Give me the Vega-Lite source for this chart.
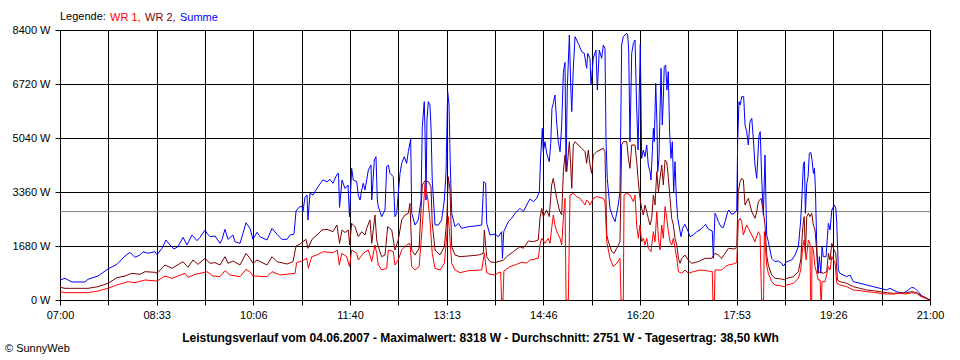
{
  "$schema": "https://vega.github.io/schema/vega-lite/v6.json",
  "autosize": "none",
  "width": 870,
  "height": 270,
  "padding": {"left": 60, "top": 30, "right": 30, "bottom": 60},
  "background": "white",
  "title": {"text": "© SunnyWeb", "orient": "bottom", "anchor": "start", "frame": "group", "dx": -55, "offset": 0, "fontSize": 11, "fontWeight": "normal", "color": "black", "font": "Liberation Sans"},
  "config": {
    "font": "Liberation Sans",
    "view": {"stroke": "black", "strokeWidth": 1}
  },
  "encoding": {
    "y": {"field": "w", "type": "quantitative", "scale": {"domain": [0, 8400], "nice": false, "zero": true},
      "axis": {"values": [0, 1680, 3360, 5040, 6720, 8400], "labelExpr": "datum.value + ' W'", "title": null, "grid": true, "gridColor": "black", "gridOpacity": 1, "gridWidth": 1, "domainColor": "black", "tickColor": "black", "tickSize": 5, "labelPadding": 5, "labelFontSize": 11, "labelColor": "black", "labelFlush": false, "labelOverlap": false, "labelFont": "Liberation Sans"}}
  },
  "layer": [
    {
      "data": {"values": [{"w": 2751}]},
      "mark": {"type": "rule", "color": "#808080", "strokeWidth": 1}
    },
    {
      "data": {"values": [{"t":0,"w":622},{"t":4.8,"w":675},{"t":11.6,"w":560},{"t":24.1,"w":560},{"t":27,"w":644},{"t":36.7,"w":747},{"t":46.3,"w":964},{"t":55,"w":1111},{"t":62.8,"w":1369},{"t":67.6,"w":1484},{"t":72.4,"w":1328},{"t":77.2,"w":1400},{"t":80.1,"w":1503},{"t":85,"w":1453},{"t":91.7,"w":1503},{"t":93.7,"w":1409},{"t":98.5,"w":1608},{"t":102.3,"w":1867},{"t":106.2,"w":1711},{"t":110.1,"w":1587},{"t":113.9,"w":1658},{"t":118.8,"w":1951},{"t":122.6,"w":1711},{"t":127.4,"w":2022},{"t":132.3,"w":1845},{"t":135.2,"w":1951},{"t":140,"w":2178},{"t":141.9,"w":2074},{"t":144.8,"w":1970},{"t":149.7,"w":1991},{"t":154.5,"w":1763},{"t":156.4,"w":1887},{"t":159.3,"w":2198},{"t":162.2,"w":1887},{"t":167,"w":2022},{"t":169,"w":1815},{"t":173.8,"w":1763},{"t":176.7,"w":2074},{"t":179.6,"w":2405},{"t":183.4,"w":2230},{"t":186.3,"w":1887},{"t":190.2,"w":2105},{"t":193.1,"w":1970},{"t":199.9,"w":1867},{"t":204.7,"w":2230},{"t":209.5,"w":2043},{"t":214.3,"w":1887},{"t":219.2,"w":1887},{"t":222.1,"w":2022},{"t":225.9,"w":2043},{"t":227.9,"w":2769},{"t":230.8,"w":2884},{"t":233.7,"w":2924},{"t":234.6,"w":2748},{"t":236.5,"w":3194},{"t":238.5,"w":3267},{"t":239.4,"w":2489},{"t":241.4,"w":3319},{"t":244.3,"w":3267},{"t":248.1,"w":3474},{"t":251,"w":3609},{"t":253.9,"w":3733},{"t":257.8,"w":3681},{"t":260.7,"w":3754},{"t":263.6,"w":3630},{"t":267.4,"w":3910},{"t":268.9,"w":3940},{"t":269.9,"w":2883},{"t":272.3,"w":3733},{"t":275.2,"w":3470},{"t":278.1,"w":3578},{"t":279.5,"w":2592},{"t":281.6,"w":4096},{"t":283.2,"w":3733},{"t":286.5,"w":3681},{"t":288,"w":3267},{"t":289.7,"w":3111},{"t":291.3,"w":3422},{"t":292.8,"w":3630},{"t":294.5,"w":3422},{"t":296.1,"w":3733},{"t":297.7,"w":4044},{"t":300.3,"w":4200},{"t":301,"w":3111},{"t":303.5,"w":4356},{"t":305.1,"w":4459},{"t":306.4,"w":3111},{"t":307.3,"w":2904},{"t":310.6,"w":2592},{"t":313.8,"w":2800},{"t":315.4,"w":4148},{"t":317,"w":4200},{"t":318.6,"w":3940},{"t":321.8,"w":3837},{"t":323.4,"w":2592},{"t":325.1,"w":2696},{"t":326.6,"w":3319},{"t":328.3,"w":3940},{"t":329.9,"w":4252},{"t":332.4,"w":4459},{"t":334.7,"w":4252},{"t":336.3,"w":4615},{"t":338.6,"w":5000},{"t":339.6,"w":2696},{"t":342.8,"w":2333},{"t":345.9,"w":2489},{"t":348.6,"w":3111},{"t":349.8,"w":5393},{"t":351.7,"w":6171},{"t":352.4,"w":5289},{"t":353.4,"w":3111},{"t":354.3,"w":5600},{"t":355.6,"w":6171},{"t":357.2,"w":6067},{"t":358.2,"w":5393},{"t":359.4,"w":3733},{"t":362.1,"w":2333},{"t":365.3,"w":2333},{"t":368.5,"w":2489},{"t":371.1,"w":3111},{"t":372.7,"w":3940},{"t":374.3,"w":6480},{"t":375.6,"w":6067},{"t":376.8,"w":4252},{"t":378.2,"w":2696},{"t":381.4,"w":2281},{"t":384.6,"w":2385},{"t":387.8,"w":2230},{"t":394.2,"w":2281},{"t":400.7,"w":2302},{"t":407.2,"w":2333},{"t":409.1,"w":3681},{"t":411,"w":3630},{"t":412,"w":2385},{"t":415.2,"w":2022},{"t":420,"w":2050},{"t":423.2,"w":1970},{"t":426.4,"w":2126},{"t":427.2,"w":1296},{"t":428.4,"w":2126},{"t":432.8,"w":2437},{"t":436.1,"w":2541},{"t":439.3,"w":2696},{"t":444.1,"w":2852},{"t":447.3,"w":2748},{"t":450.6,"w":2955},{"t":453.8,"w":3142},{"t":457,"w":3059},{"t":460.3,"w":3163},{"t":462.8,"w":3370},{"t":464.1,"w":4459},{"t":465.7,"w":5341},{"t":466.6,"w":4615},{"t":468.3,"w":4926},{"t":469.9,"w":4563},{"t":472.4,"w":4304},{"t":473.8,"w":4874},{"t":475,"w":5963},{"t":476.3,"w":6119},{"t":477.9,"w":6378},{"t":479.6,"w":5496},{"t":481.1,"w":4926},{"t":482.8,"w":4615},{"t":484.4,"w":5445},{"t":486,"w":7078},{"t":487.6,"w":7389},{"t":488.6,"w":3993},{"t":489.8,"w":6586},{"t":491.8,"w":8244},{"t":493.1,"w":6689},{"t":494.1,"w":5860},{"t":495.6,"w":7208},{"t":497.3,"w":8192},{"t":500.4,"w":7985},{"t":503.7,"w":7726},{"t":506.2,"w":7674},{"t":508.5,"w":7208},{"t":509.5,"w":7674},{"t":511.7,"w":7519},{"t":512.7,"w":6689},{"t":514.9,"w":7519},{"t":517.5,"w":7778},{"t":518.8,"w":6533},{"t":520.7,"w":7778},{"t":523,"w":7519},{"t":524.6,"w":7933},{"t":526.2,"w":7830},{"t":527.2,"w":4978},{"t":528.4,"w":3785},{"t":531,"w":2852},{"t":533.6,"w":2593},{"t":535.9,"w":2437},{"t":539,"w":2956},{"t":540.7,"w":3370},{"t":542.3,"w":7933},{"t":543.9,"w":8192},{"t":545.5,"w":8244},{"t":547.2,"w":8296},{"t":548.1,"w":8244},{"t":549.1,"w":7778},{"t":550.3,"w":4926},{"t":552,"w":7674},{"t":553.6,"w":7985},{"t":555.2,"w":8089},{"t":556.6,"w":6222},{"t":558.1,"w":4667},{"t":560.3,"w":7955},{"t":561.6,"w":4407},{"t":563.2,"w":4667},{"t":564.8,"w":4459},{"t":566.5,"w":4822},{"t":568,"w":4200},{"t":569.7,"w":3993},{"t":570.6,"w":3733},{"t":571.9,"w":4615},{"t":572.9,"w":5341},{"t":573.8,"w":4926},{"t":575.2,"w":6741},{"t":576.4,"w":5445},{"t":577.1,"w":3993},{"t":578.3,"w":4407},{"t":580.3,"w":7208},{"t":581.5,"w":5445},{"t":582.5,"w":6222},{"t":583.4,"w":7259},{"t":584.8,"w":7311},{"t":586,"w":6533},{"t":587.3,"w":7104},{"t":588.6,"w":5237},{"t":589.9,"w":4407},{"t":591.2,"w":4926},{"t":592.5,"w":3370},{"t":593.8,"w":4304},{"t":595.1,"w":3163},{"t":596.4,"w":2541},{"t":597.6,"w":2333},{"t":599.6,"w":1970},{"t":601.2,"w":2230},{"t":603.4,"w":2354},{"t":605.1,"w":2230},{"t":606.6,"w":2126},{"t":608.3,"w":1970},{"t":611.5,"w":2022},{"t":614.7,"w":2126},{"t":617.9,"w":2178},{"t":621.1,"w":2281},{"t":623.4,"w":2354},{"t":625.4,"w":2230},{"t":627.6,"w":2178},{"t":629.8,"w":2147},{"t":630.8,"w":1296},{"t":632.4,"w":2696},{"t":634.1,"w":2593},{"t":635.6,"w":2437},{"t":638.2,"w":2281},{"t":640.4,"w":2250},{"t":642.1,"w":2437},{"t":644.7,"w":2748},{"t":645.9,"w":2800},{"t":648.5,"w":2665},{"t":651,"w":2696},{"t":653.4,"w":2800},{"t":654.3,"w":4926},{"t":655.6,"w":6170},{"t":656.8,"w":6067},{"t":658.2,"w":6326},{"t":660.1,"w":6326},{"t":661.4,"w":5445},{"t":663,"w":5237},{"t":664.6,"w":4822},{"t":666.2,"w":5548},{"t":667.9,"w":5652},{"t":669.4,"w":5030},{"t":671,"w":4200},{"t":672.7,"w":3785},{"t":674.9,"w":5133},{"t":676.1,"w":5237},{"t":677.5,"w":3785},{"t":679.1,"w":2644},{"t":680.7,"w":4511},{"t":682.3,"w":2022},{"t":683.9,"w":1815},{"t":687.2,"w":1296},{"t":690.3,"w":1193},{"t":693.5,"w":1213},{"t":696.8,"w":1141},{"t":698.4,"w":1058},{"t":701.7,"w":1193},{"t":706.5,"w":1244},{"t":709.7,"w":1400},{"t":712.9,"w":1659},{"t":715.2,"w":2489},{"t":716.5,"w":3319},{"t":717.7,"w":4200},{"t":718.7,"w":4304},{"t":719.7,"w":2696},{"t":721,"w":3630},{"t":722.3,"w":3837},{"t":723.5,"w":4563},{"t":724.9,"w":4593},{"t":726.1,"w":4356},{"t":727.4,"w":3940},{"t":728.4,"w":4096},{"t":729.3,"w":3526},{"t":730.7,"w":1659},{"t":731.9,"w":830},{"t":733.2,"w":1348},{"t":734.6,"w":830},{"t":735.8,"w":1659},{"t":737,"w":1348},{"t":739.6,"w":1348},{"t":741.9,"w":2385},{"t":743.5,"w":2178},{"t":745.2,"w":2800},{"t":746.8,"w":2904},{"t":747.6,"w":2955},{"t":749,"w":2861},{"t":750,"w":2385},{"t":751.5,"w":933},{"t":753.1,"w":830},{"t":756.3,"w":778},{"t":759.6,"w":726},{"t":762.8,"w":778},{"t":766,"w":570},{"t":772.4,"w":519},{"t":778.9,"w":467},{"t":785.3,"w":415},{"t":791.7,"w":363},{"t":798.2,"w":311},{"t":801.4,"w":363},{"t":807.8,"w":259},{"t":814.2,"w":208},{"t":819.1,"w":311},{"t":822.3,"w":395},{"t":825.5,"w":363},{"t":828.7,"w":259},{"t":832,"w":124},{"t":836.8,"w":53},{"t":840,"w":0}]},
      "mark": {"type": "line", "strokeWidth": 1},
      "encoding": {
        "x": {"field": "t", "type": "quantitative", "scale": {"domain": [0, 840], "nice": false, "zero": false},
          "axis": {"values": [0, 46.667, 93.333, 140, 186.667, 233.333, 280, 326.667, 373.333, 420, 466.667, 513.333, 560, 606.667, 653.333, 700, 746.667, 793.333, 840],
            "labelExpr": "['07:00','','08:33','','10:06','','11:40','','13:13','','14:46','','16:20','','17:53','','19:26','','21:00'][round(datum.value / 46.6667)]",
            "grid": true, "gridColor": "black", "gridOpacity": 1, "gridWidth": 1, "domainColor": "black", "tickColor": "black", "tickSize": 5, "labelPadding": 4, "labelFontSize": 11, "labelColor": "black", "labelFlush": false, "labelOverlap": false, "labelFont": "Liberation Sans",
            "title": "Leistungsverlauf vom 04.06.2007 - Maximalwert: 8318 W - Durchschnitt: 2751 W - Tagesertrag: 38,50 kWh",
            "titleFont": "Liberation Sans", "titleFontSize": 12, "titleFontWeight": "bold", "titleColor": "black", "titleX": 420, "titleY": 41, "titleAlign": "center", "titleBaseline": "alphabetic"}},
        "color": {"datum": "Summe", "type": "nominal",
          "scale": {"domain": ["WR 1", "WR 2", "Summe"], "range": ["#ff0000", "#800000", "#0000ff"]},
          "legend": {"orient": "none", "legendX": 0, "legendY": -18, "direction": "horizontal", "gridAlign": "none",
            "title": "Legende:", "titleOrient": "left", "titleFont": "Liberation Sans", "titleFontSize": 11, "titleFontWeight": "normal", "titleColor": "black", "titlePadding": 1,
            "symbolType": "circle", "symbolSize": 1, "symbolOpacity": 0, "symbolStrokeWidth": 0, "symbolStrokeColor": "transparent", "symbolFillColor": "transparent", "labelOffset": -8, "columnPadding": 1,
            "labelFont": "Liberation Sans", "labelFontSize": 11,
            "labelColor": {"expr": "datum.value === 'WR 1' ? '#ff0000' : datum.value === 'WR 2' ? '#800000' : '#0000ff'"},
            "labelExpr": "datum.label === 'Summe' ? datum.label : datum.label + ','"}}
      }
    },
    {
      "data": {"values": [{"t":0,"w":396},{"t":4.8,"w":363},{"t":14.5,"w":363},{"t":27,"w":363},{"t":36.7,"w":415},{"t":46.3,"w":519},{"t":55,"w":694},{"t":62.8,"w":747},{"t":69.5,"w":830},{"t":77.2,"w":799},{"t":82.1,"w":881},{"t":91.7,"w":861},{"t":93.7,"w":830},{"t":101.4,"w":1089},{"t":108.1,"w":985},{"t":118.8,"w":1193},{"t":123.6,"w":1017},{"t":128.4,"w":1244},{"t":133.2,"w":1110},{"t":140,"w":1296},{"t":144.8,"w":1141},{"t":149.7,"w":1162},{"t":154.5,"w":1089},{"t":159.3,"w":1348},{"t":162.2,"w":1141},{"t":167,"w":1213},{"t":173.8,"w":1089},{"t":179.6,"w":1452},{"t":183.4,"w":1296},{"t":186.3,"w":1141},{"t":190.2,"w":1244},{"t":199.9,"w":1089},{"t":204.7,"w":1348},{"t":209.5,"w":1193},{"t":219.2,"w":1120},{"t":225,"w":1193},{"t":227.9,"w":1680},{"t":231.7,"w":1742},{"t":234.6,"w":1815},{"t":237.5,"w":1887},{"t":239.4,"w":1608},{"t":243.3,"w":1887},{"t":248.1,"w":2022},{"t":253,"w":2178},{"t":257.8,"w":2198},{"t":263.6,"w":2126},{"t":267.4,"w":2333},{"t":269.9,"w":1763},{"t":272.3,"w":2178},{"t":275.2,"w":2100},{"t":278.4,"w":2178},{"t":279.7,"w":1711},{"t":281.6,"w":2385},{"t":284.8,"w":2281},{"t":288,"w":1970},{"t":291.3,"w":2126},{"t":294.5,"w":2022},{"t":296.1,"w":2230},{"t":299.3,"w":2489},{"t":301,"w":1763},{"t":304.1,"w":2644},{"t":305.8,"w":1867},{"t":307.3,"w":1659},{"t":310.6,"w":1348},{"t":313.8,"w":1400},{"t":316.4,"w":2281},{"t":320.3,"w":2178},{"t":323.4,"w":1556},{"t":326.6,"w":1867},{"t":329.9,"w":2489},{"t":333.1,"w":2644},{"t":336.3,"w":2696},{"t":337.9,"w":3007},{"t":339.6,"w":1556},{"t":342.8,"w":1400},{"t":346.7,"w":1608},{"t":349.8,"w":3578},{"t":352.4,"w":3712},{"t":355.6,"w":3681},{"t":358.2,"w":3526},{"t":359.4,"w":2385},{"t":362.1,"w":1556},{"t":366.9,"w":1400},{"t":371.1,"w":1659},{"t":373.4,"w":2489},{"t":374.9,"w":3837},{"t":376.6,"w":3422},{"t":378.2,"w":1659},{"t":381.4,"w":1400},{"t":386.2,"w":1348},{"t":394.2,"w":1369},{"t":403.9,"w":1400},{"t":408.7,"w":1452},{"t":409.7,"w":2178},{"t":412,"w":1348},{"t":415.2,"w":1193},{"t":420,"w":1162},{"t":422.9,"w":1193},{"t":428,"w":1234},{"t":431.3,"w":1348},{"t":437.7,"w":1504},{"t":444.1,"w":1659},{"t":447.3,"w":1608},{"t":452.2,"w":1835},{"t":457,"w":1815},{"t":461.8,"w":1867},{"t":463.4,"w":2541},{"t":465.1,"w":2852},{"t":466.6,"w":2593},{"t":469.9,"w":2800},{"t":472.4,"w":2593},{"t":474.7,"w":3578},{"t":476.3,"w":3785},{"t":477.9,"w":3474},{"t":479.6,"w":3163},{"t":482.1,"w":2800},{"t":484.4,"w":2644},{"t":486,"w":3993},{"t":487.6,"w":4511},{"t":489.3,"w":3993},{"t":491.8,"w":4926},{"t":493.1,"w":4200},{"t":494.1,"w":3474},{"t":495.6,"w":4822},{"t":497.3,"w":4926},{"t":500.4,"w":4822},{"t":503.7,"w":4719},{"t":506.9,"w":4615},{"t":508.5,"w":4252},{"t":510.1,"w":4667},{"t":511.7,"w":4200},{"t":513.4,"w":3940},{"t":514.9,"w":4511},{"t":518.2,"w":4615},{"t":521.4,"w":4667},{"t":524.6,"w":4719},{"t":526.2,"w":4615},{"t":527.9,"w":2022},{"t":529.5,"w":1815},{"t":532.8,"w":1504},{"t":535,"w":1452},{"t":537.5,"w":1608},{"t":540.7,"w":1815},{"t":542.3,"w":4822},{"t":543.9,"w":4926},{"t":547.2,"w":4926},{"t":548.8,"w":4407},{"t":550.3,"w":4096},{"t":552,"w":4822},{"t":555.2,"w":4822},{"t":556.8,"w":4304},{"t":558.4,"w":3681},{"t":560,"w":3163},{"t":561.6,"w":2852},{"t":563.2,"w":2644},{"t":564.8,"w":2955},{"t":566.5,"w":2748},{"t":568,"w":2541},{"t":569.7,"w":2333},{"t":571.3,"w":2541},{"t":572.9,"w":3267},{"t":574.5,"w":2955},{"t":576.2,"w":3993},{"t":577.8,"w":3370},{"t":579.3,"w":3785},{"t":581,"w":4200},{"t":582.5,"w":3578},{"t":584.2,"w":4356},{"t":585.8,"w":4304},{"t":587.4,"w":3785},{"t":589,"w":3163},{"t":590.6,"w":2541},{"t":592.2,"w":2333},{"t":593.8,"w":1919},{"t":595.5,"w":1711},{"t":597.1,"w":1296},{"t":598.6,"w":1141},{"t":600.3,"w":1296},{"t":603.4,"w":1400},{"t":606.6,"w":1244},{"t":609.9,"w":1141},{"t":616.3,"w":1193},{"t":619.5,"w":1244},{"t":622.7,"w":1296},{"t":629.2,"w":1296},{"t":632.4,"w":1452},{"t":635.6,"w":1400},{"t":638.9,"w":1296},{"t":642.1,"w":1452},{"t":645.3,"w":1608},{"t":651.7,"w":1587},{"t":653.4,"w":1659},{"t":654.9,"w":3370},{"t":656.6,"w":3681},{"t":658.2,"w":3785},{"t":659.8,"w":3733},{"t":661.4,"w":2955},{"t":664.6,"w":3163},{"t":667.9,"w":2748},{"t":671,"w":2541},{"t":672.7,"w":2748},{"t":674.3,"w":3059},{"t":676.9,"w":3163},{"t":679.1,"w":2748},{"t":680.7,"w":2333},{"t":682.3,"w":1400},{"t":683.9,"w":1089},{"t":687.2,"w":778},{"t":690.3,"w":674},{"t":696.8,"w":653},{"t":700,"w":622},{"t":701.7,"w":674},{"t":708,"w":726},{"t":712.9,"w":881},{"t":715.2,"w":1244},{"t":717.2,"w":2281},{"t":718.5,"w":2593},{"t":719.7,"w":1452},{"t":721,"w":2593},{"t":722.6,"w":2696},{"t":724.1,"w":2593},{"t":725.8,"w":2696},{"t":727.4,"w":2333},{"t":729,"w":2178},{"t":730.7,"w":1452},{"t":731.9,"w":830},{"t":733.9,"w":881},{"t":737,"w":830},{"t":740.3,"w":881},{"t":741.9,"w":1452},{"t":743.5,"w":1244},{"t":745.2,"w":1763},{"t":747.4,"w":1556},{"t":749,"w":1452},{"t":750.6,"w":622},{"t":753.1,"w":570},{"t":759.6,"w":519},{"t":766,"w":415},{"t":772.4,"w":363},{"t":778.9,"w":311},{"t":785.3,"w":290},{"t":791.7,"w":259},{"t":798.2,"w":228},{"t":804.6,"w":208},{"t":817.5,"w":228},{"t":822.3,"w":259},{"t":827.1,"w":228},{"t":830.3,"w":156},{"t":836.8,"w":53},{"t":840,"w":0}]},
      "mark": {"type": "line", "strokeWidth": 1},
      "encoding": {
        "x": {"field": "t", "type": "quantitative"},
        "color": {"datum": "WR 2", "type": "nominal"}
      }
    },
    {
      "data": {"values": [{"t":0,"w":259},{"t":4.8,"w":228},{"t":27,"w":228},{"t":36.7,"w":280},{"t":46.3,"w":363},{"t":55,"w":467},{"t":65.7,"w":570},{"t":72.4,"w":539},{"t":82.1,"w":622},{"t":93.7,"w":591},{"t":101.4,"w":747},{"t":108.1,"w":674},{"t":120.7,"w":830},{"t":123.6,"w":705},{"t":130.3,"w":799},{"t":140,"w":861},{"t":141.9,"w":881},{"t":147.7,"w":747},{"t":154.5,"w":726},{"t":159.3,"w":912},{"t":164.1,"w":778},{"t":173.8,"w":726},{"t":179.6,"w":954},{"t":183.4,"w":881},{"t":186.3,"w":747},{"t":199.9,"w":726},{"t":204.7,"w":881},{"t":212.4,"w":778},{"t":226.9,"w":830},{"t":228.5,"w":1162},{"t":233.4,"w":1213},{"t":238.2,"w":1296},{"t":239.8,"w":985},{"t":243,"w":1348},{"t":247.9,"w":1400},{"t":254.2,"w":1503},{"t":263.9,"w":1472},{"t":267.7,"w":1556},{"t":269.7,"w":1089},{"t":272,"w":1452},{"t":276.8,"w":1348},{"t":279.5,"w":1037},{"t":281.6,"w":1556},{"t":286.5,"w":1452},{"t":288,"w":1244},{"t":292.8,"w":1452},{"t":297.7,"w":1556},{"t":301,"w":1193},{"t":304.1,"w":1711},{"t":305.8,"w":1452},{"t":307.3,"w":1089},{"t":310.6,"w":933},{"t":315.4,"w":985},{"t":317,"w":1556},{"t":321.8,"w":1503},{"t":323.4,"w":1089},{"t":326.6,"w":1244},{"t":329.9,"w":1556},{"t":334.7,"w":1711},{"t":337.9,"w":1763},{"t":339.6,"w":1037},{"t":342.8,"w":933},{"t":346.7,"w":1037},{"t":349.8,"w":2281},{"t":352.4,"w":3630},{"t":355.3,"w":3111},{"t":357.2,"w":2489},{"t":359.4,"w":1452},{"t":362.1,"w":985},{"t":366.9,"w":933},{"t":371.1,"w":1141},{"t":373.4,"w":1970},{"t":374.9,"w":2593},{"t":376.6,"w":1867},{"t":378.2,"w":1141},{"t":381.4,"w":933},{"t":386.2,"w":850},{"t":394.2,"w":912},{"t":407.2,"w":933},{"t":409.7,"w":1452},{"t":412,"w":850},{"t":415.2,"w":799},{"t":420,"w":778},{"t":422.9,"w":840},{"t":425.5,"w":871},{"t":426.3,"w":0},{"t":427.7,"w":0},{"t":428.6,"w":902},{"t":434.5,"w":1037},{"t":440.9,"w":1110},{"t":445.7,"w":1172},{"t":450.6,"w":1151},{"t":453.8,"w":1244},{"t":461.8,"w":1296},{"t":463.4,"w":1711},{"t":465.1,"w":1919},{"t":468.3,"w":1763},{"t":471.5,"w":1919},{"t":473.1,"w":1763},{"t":474.7,"w":2230},{"t":476.3,"w":2644},{"t":477.9,"w":2333},{"t":479.6,"w":2126},{"t":482.8,"w":1919},{"t":484.4,"w":1711},{"t":486,"w":2541},{"t":487.6,"w":3163},{"t":488.6,"w":0},{"t":490.8,"w":0},{"t":492.4,"w":3267},{"t":495.6,"w":3319},{"t":498.9,"w":3215},{"t":502.1,"w":3163},{"t":506.9,"w":2955},{"t":508.5,"w":3111},{"t":510.1,"w":3059},{"t":511.7,"w":2955},{"t":514.9,"w":3163},{"t":518.2,"w":3215},{"t":524.6,"w":3163},{"t":526.2,"w":3059},{"t":527.9,"w":1815},{"t":531,"w":1296},{"t":534.3,"w":1037},{"t":537.5,"w":1141},{"t":540.7,"w":1296},{"t":541.7,"w":0},{"t":543.9,"w":0},{"t":544.6,"w":3267},{"t":547.2,"w":3319},{"t":550.3,"w":3267},{"t":553.6,"w":3059},{"t":555.2,"w":3267},{"t":556.8,"w":2333},{"t":558.4,"w":1919},{"t":560,"w":2333},{"t":561.6,"w":1815},{"t":563.2,"w":1919},{"t":564.8,"w":1711},{"t":566.5,"w":1919},{"t":568,"w":1608},{"t":570.6,"w":1504},{"t":572.9,"w":2126},{"t":574.5,"w":1815},{"t":576.2,"w":2748},{"t":577.8,"w":1919},{"t":579.3,"w":1556},{"t":581,"w":2333},{"t":582.5,"w":1919},{"t":584.2,"w":2904},{"t":585.8,"w":2541},{"t":587.4,"w":2126},{"t":589,"w":1815},{"t":590.6,"w":1711},{"t":592.2,"w":1919},{"t":593.8,"w":1608},{"t":595.5,"w":1296},{"t":597.1,"w":881},{"t":600.3,"w":830},{"t":603.4,"w":933},{"t":606.6,"w":830},{"t":611.5,"w":881},{"t":617.9,"w":933},{"t":625.9,"w":902},{"t":629.8,"w":881},{"t":630.4,"w":0},{"t":631.9,"w":0},{"t":632.4,"w":933},{"t":638.9,"w":933},{"t":642.1,"w":1037},{"t":645.3,"w":1089},{"t":650.1,"w":1120},{"t":653.4,"w":1172},{"t":654.9,"w":2437},{"t":656.6,"w":2541},{"t":658.2,"w":2437},{"t":659.8,"w":2022},{"t":663,"w":2333},{"t":664.6,"w":2230},{"t":667.9,"w":2022},{"t":671,"w":1815},{"t":674.3,"w":2126},{"t":675.9,"w":2022},{"t":677.4,"w":0},{"t":679.3,"w":0},{"t":680.1,"w":2126},{"t":682.3,"w":1089},{"t":683.9,"w":830},{"t":687.2,"w":570},{"t":690.3,"w":467},{"t":696.8,"w":435},{"t":700,"w":415},{"t":701.7,"w":467},{"t":708,"w":519},{"t":712.9,"w":674},{"t":715.2,"w":933},{"t":717.2,"w":1659},{"t":718.5,"w":1867},{"t":720.4,"w":1244},{"t":722.6,"w":1867},{"t":724.1,"w":1763},{"t":724.8,"w":0},{"t":725.8,"w":0},{"t":726.1,"w":1659},{"t":727.4,"w":1556},{"t":729,"w":1037},{"t":730.7,"w":830},{"t":732.2,"w":622},{"t":733.9,"w":622},{"t":734.6,"w":0},{"t":735.1,"w":0},{"t":735.8,"w":570},{"t":738.7,"w":570},{"t":741.9,"w":1037},{"t":743.5,"w":933},{"t":745.2,"w":1348},{"t":746.8,"w":1244},{"t":748.4,"w":1141},{"t":750,"w":519},{"t":753.1,"w":467},{"t":759.6,"w":415},{"t":766,"w":311},{"t":772.4,"w":290},{"t":778.9,"w":259},{"t":785.3,"w":239},{"t":791.7,"w":208},{"t":798.2,"w":187},{"t":804.6,"w":187},{"t":811.1,"w":208},{"t":817.5,"w":187},{"t":822.3,"w":228},{"t":827.1,"w":208},{"t":830.3,"w":124},{"t":836.8,"w":40},{"t":840,"w":0}]},
      "mark": {"type": "line", "strokeWidth": 1},
      "encoding": {
        "x": {"field": "t", "type": "quantitative"},
        "color": {"datum": "WR 1", "type": "nominal"}
      }
    }
  ]
}
